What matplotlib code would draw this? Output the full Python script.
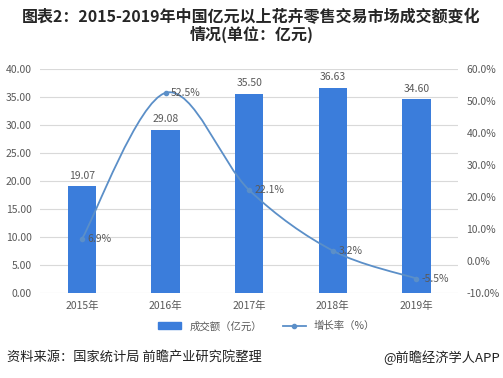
#!/usr/bin/env python3

import matplotlib

matplotlib.use("Agg")
import matplotlib.pyplot as plt
from matplotlib.path import Path
from matplotlib.patches import PathPatch
from matplotlib.lines import Line2D
from matplotlib.patches import Patch

plt.rcParams["font.family"] = ["Noto Sans CJK SC", "DejaVu Sans"]

YEARS = ["2015年", "2016年", "2017年", "2018年", "2019年"]
AMOUNT = [19.07, 29.08, 35.50, 36.63, 34.60]
GROWTH = [6.9, 52.5, 22.1, 3.2, -5.5]

BAR_COLOR = "#3B7DDB"
LINE_COLOR = "#5B8FC8"
TEXT_GREY = "#595959"


def smooth_path(xs, ys):
    # Bezier segments through the points, like a spreadsheet "smoothed line"
    pts = list(zip(xs, ys))
    n = len(pts)
    verts = [pts[0]]
    codes = [Path.MOVETO]
    for i in range(n - 1):
        p0 = pts[max(i - 1, 0)]
        p1 = pts[i]
        p2 = pts[i + 1]
        p3 = pts[min(i + 2, n - 1)]
        c1 = (p1[0] + (p2[0] - p0[0]) / 6, p1[1] + (p2[1] - p0[1]) / 6)
        c2 = (p2[0] - (p3[0] - p1[0]) / 6, p2[1] - (p3[1] - p1[1]) / 6)
        verts += [c1, c2, p2]
        codes += [Path.CURVE4] * 3
    return Path(verts, codes)


def main():
    fig = plt.figure(figsize=(5.03, 3.78), dpi=100)
    ax = fig.add_axes([0.08, 0.225, 0.831, 0.593])
    x = list(range(len(YEARS)))

    ax.bar(x, AMOUNT, width=0.34, color=BAR_COLOR, zorder=2)
    for xi, v in zip(x, AMOUNT):
        ax.annotate(f"{v:.2f}", (xi, v), xytext=(0, 4), textcoords="offset points",
                    ha="center", va="bottom", fontsize=7.5, color=TEXT_GREY)

    ax.set_ylim(0, 40)
    ax.set_yticks(range(0, 41, 5))
    ax.set_yticklabels([f"{v:.2f}" for v in range(0, 41, 5)])
    ax.set_xlim(-0.5, len(YEARS) - 0.5)
    ax.set_xticks(x)
    ax.set_xticklabels(YEARS)
    ax.grid(axis="y", color="#D9D9D9", linewidth=0.8, zorder=0)
    ax.set_axisbelow(True)
    for s in ax.spines.values():
        s.set_visible(False)
    ax.tick_params(length=0, labelsize=7.5, colors=TEXT_GREY, pad=6)

    ax2 = ax.twinx()
    ax2.set_ylim(-10, 60)
    ax2.set_yticks(range(-10, 61, 10))
    ax2.set_yticklabels([f"{v:.1f}%" for v in range(-10, 61, 10)])
    for s in ax2.spines.values():
        s.set_visible(False)
    ax2.tick_params(length=0, labelsize=7.5, colors=TEXT_GREY, pad=6)

    ax2.add_patch(PathPatch(smooth_path(x, GROWTH), facecolor="none",
                            edgecolor=LINE_COLOR, linewidth=1.3, zorder=3))
    ax2.plot(x, GROWTH, linestyle="none", marker="o", markersize=3,
             color=LINE_COLOR, zorder=4)
    for xi, v in zip(x, GROWTH):
        ax2.annotate(f"{v:.1f}%", (xi, v), xytext=(4, 0), textcoords="offset points",
                     ha="left", va="center", fontsize=7.5, color=TEXT_GREY, zorder=5)

    handles = [
        Patch(color=BAR_COLOR, label="成交额（亿元）"),
        Line2D([], [], color=LINE_COLOR, marker="o", markersize=3, linewidth=1.3,
               label="增长率（%）"),
    ]
    fig.legend(handles=handles, loc="center", bbox_to_anchor=(0.53, 0.137), ncol=2,
               frameon=False, fontsize=7.5, labelcolor=TEXT_GREY, handlelength=2.2,
               columnspacing=2.0, handleheight=0.6)

    fig.text(0.5, 0.955, "图表2：2015-2019年中国亿元以上花卉零售交易市场成交额变化",
             ha="center", va="center", fontsize=11.5, fontweight="bold", color="#262626")
    fig.text(0.5, 0.908, "情况(单位：亿元)", ha="center", va="center",
             fontsize=11.5, fontweight="bold", color="#262626")

    fig.text(0.014, 0.055, "资料来源：国家统计局 前瞻产业研究院整理", ha="left",
             va="center", fontsize=9.5, color="#222222")
    fig.text(0.995, 0.055, "@前瞻经济学人APP", ha="right", va="center",
             fontsize=9.5, color="#222222")

    fig.savefig("out.png", dpi=100)


if __name__ == "__main__":
    main()
